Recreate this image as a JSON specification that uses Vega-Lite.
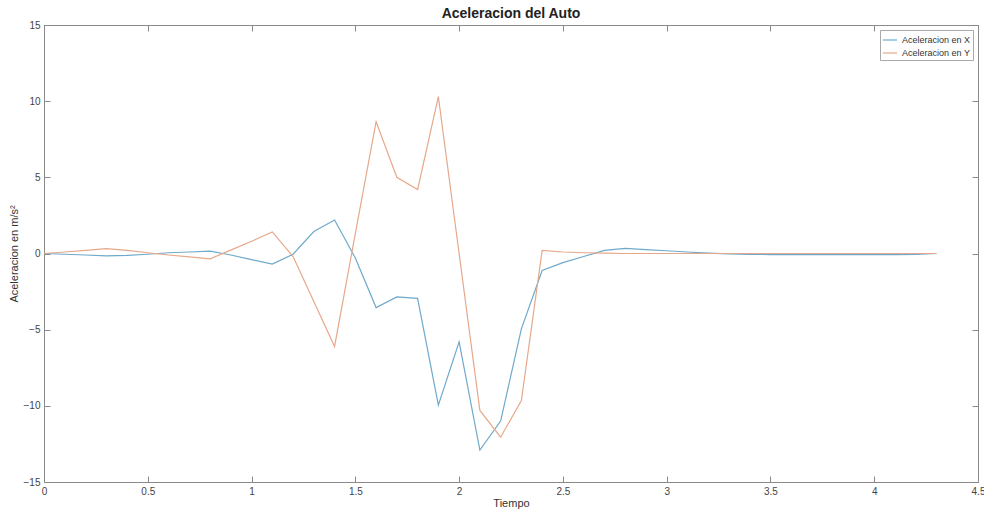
{
  "$schema": "https://vega.github.io/schema/vega-lite/v6.json",
  "width": 934,
  "height": 457,
  "autosize": {"type": "none"},
  "padding": {"left": 44, "top": 25, "right": 6, "bottom": 31},
  "background": "white",
  "config": {
    "view": {"stroke": "#8a8a8a", "strokeWidth": 1},
    "font": "Liberation Sans",
    "axis": {"labelFont": "Liberation Sans", "titleFont": "Liberation Sans"}
  },
  "title": {
    "text": "Aceleracion del Auto",
    "fontSize": 14,
    "fontWeight": "bold",
    "font": "Liberation Sans",
    "color": "#222222",
    "offset": -1
  },
  "data": {
    "values": [
      {"t": 0.0, "s": "Aceleracion en X", "a": 0.0},
      {"t": 0.1, "s": "Aceleracion en X", "a": -0.05},
      {"t": 0.2, "s": "Aceleracion en X", "a": -0.1},
      {"t": 0.3, "s": "Aceleracion en X", "a": -0.15},
      {"t": 0.4, "s": "Aceleracion en X", "a": -0.12},
      {"t": 0.5, "s": "Aceleracion en X", "a": -0.05},
      {"t": 0.6, "s": "Aceleracion en X", "a": 0.05},
      {"t": 0.7, "s": "Aceleracion en X", "a": 0.1},
      {"t": 0.8, "s": "Aceleracion en X", "a": 0.15},
      {"t": 0.9, "s": "Aceleracion en X", "a": -0.1},
      {"t": 1.0, "s": "Aceleracion en X", "a": -0.4},
      {"t": 1.1, "s": "Aceleracion en X", "a": -0.7},
      {"t": 1.2, "s": "Aceleracion en X", "a": -0.05},
      {"t": 1.3, "s": "Aceleracion en X", "a": 1.44},
      {"t": 1.4, "s": "Aceleracion en X", "a": 2.2},
      {"t": 1.5, "s": "Aceleracion en X", "a": -0.3},
      {"t": 1.6, "s": "Aceleracion en X", "a": -3.55},
      {"t": 1.7, "s": "Aceleracion en X", "a": -2.85},
      {"t": 1.8, "s": "Aceleracion en X", "a": -2.95},
      {"t": 1.9, "s": "Aceleracion en X", "a": -9.95},
      {"t": 2.0, "s": "Aceleracion en X", "a": -5.8},
      {"t": 2.1, "s": "Aceleracion en X", "a": -12.9},
      {"t": 2.2, "s": "Aceleracion en X", "a": -11.0},
      {"t": 2.3, "s": "Aceleracion en X", "a": -4.95},
      {"t": 2.4, "s": "Aceleracion en X", "a": -1.12},
      {"t": 2.5, "s": "Aceleracion en X", "a": -0.6},
      {"t": 2.6, "s": "Aceleracion en X", "a": -0.2},
      {"t": 2.7, "s": "Aceleracion en X", "a": 0.2},
      {"t": 2.8, "s": "Aceleracion en X", "a": 0.33},
      {"t": 2.9, "s": "Aceleracion en X", "a": 0.26},
      {"t": 3.0, "s": "Aceleracion en X", "a": 0.18},
      {"t": 3.1, "s": "Aceleracion en X", "a": 0.1},
      {"t": 3.2, "s": "Aceleracion en X", "a": 0.03},
      {"t": 3.3, "s": "Aceleracion en X", "a": -0.03},
      {"t": 3.4, "s": "Aceleracion en X", "a": -0.06},
      {"t": 3.5, "s": "Aceleracion en X", "a": -0.07},
      {"t": 3.6, "s": "Aceleracion en X", "a": -0.07},
      {"t": 3.7, "s": "Aceleracion en X", "a": -0.07},
      {"t": 3.8, "s": "Aceleracion en X", "a": -0.07},
      {"t": 3.9, "s": "Aceleracion en X", "a": -0.07},
      {"t": 4.0, "s": "Aceleracion en X", "a": -0.07},
      {"t": 4.1, "s": "Aceleracion en X", "a": -0.07},
      {"t": 4.2, "s": "Aceleracion en X", "a": -0.06},
      {"t": 4.3, "s": "Aceleracion en X", "a": 0.0},
      {"t": 0.0, "s": "Aceleracion en Y", "a": 0.0},
      {"t": 0.1, "s": "Aceleracion en Y", "a": 0.1},
      {"t": 0.2, "s": "Aceleracion en Y", "a": 0.2},
      {"t": 0.3, "s": "Aceleracion en Y", "a": 0.32},
      {"t": 0.4, "s": "Aceleracion en Y", "a": 0.2},
      {"t": 0.5, "s": "Aceleracion en Y", "a": 0.05},
      {"t": 0.6, "s": "Aceleracion en Y", "a": -0.1},
      {"t": 0.7, "s": "Aceleracion en Y", "a": -0.22},
      {"t": 0.8, "s": "Aceleracion en Y", "a": -0.35},
      {"t": 0.9, "s": "Aceleracion en Y", "a": 0.22},
      {"t": 1.0, "s": "Aceleracion en Y", "a": 0.8},
      {"t": 1.1, "s": "Aceleracion en Y", "a": 1.42},
      {"t": 1.2, "s": "Aceleracion en Y", "a": -0.2},
      {"t": 1.3, "s": "Aceleracion en Y", "a": -3.15},
      {"t": 1.4, "s": "Aceleracion en Y", "a": -6.1},
      {"t": 1.5, "s": "Aceleracion en Y", "a": 1.3},
      {"t": 1.6, "s": "Aceleracion en Y", "a": 8.65},
      {"t": 1.7, "s": "Aceleracion en Y", "a": 5.0},
      {"t": 1.8, "s": "Aceleracion en Y", "a": 4.2},
      {"t": 1.9, "s": "Aceleracion en Y", "a": 10.3},
      {"t": 2.0, "s": "Aceleracion en Y", "a": 0.0},
      {"t": 2.1, "s": "Aceleracion en Y", "a": -10.3},
      {"t": 2.2, "s": "Aceleracion en Y", "a": -12.06},
      {"t": 2.3, "s": "Aceleracion en Y", "a": -9.65},
      {"t": 2.4, "s": "Aceleracion en Y", "a": 0.2},
      {"t": 2.5, "s": "Aceleracion en Y", "a": 0.1},
      {"t": 2.6, "s": "Aceleracion en Y", "a": 0.05},
      {"t": 2.7, "s": "Aceleracion en Y", "a": 0.02},
      {"t": 2.8, "s": "Aceleracion en Y", "a": 0.0},
      {"t": 2.9, "s": "Aceleracion en Y", "a": 0.0},
      {"t": 3.0, "s": "Aceleracion en Y", "a": 0.0},
      {"t": 3.1, "s": "Aceleracion en Y", "a": 0.0},
      {"t": 3.2, "s": "Aceleracion en Y", "a": 0.0},
      {"t": 3.3, "s": "Aceleracion en Y", "a": 0.0},
      {"t": 3.4, "s": "Aceleracion en Y", "a": 0.0},
      {"t": 3.5, "s": "Aceleracion en Y", "a": 0.0},
      {"t": 3.6, "s": "Aceleracion en Y", "a": 0.0},
      {"t": 3.7, "s": "Aceleracion en Y", "a": 0.0},
      {"t": 3.8, "s": "Aceleracion en Y", "a": 0.0},
      {"t": 3.9, "s": "Aceleracion en Y", "a": 0.0},
      {"t": 4.0, "s": "Aceleracion en Y", "a": 0.0},
      {"t": 4.1, "s": "Aceleracion en Y", "a": 0.0},
      {"t": 4.2, "s": "Aceleracion en Y", "a": 0.0},
      {"t": 4.3, "s": "Aceleracion en Y", "a": 0.0}
    ]
  },
  "layer": [
    {
      "mark": {"type": "line", "strokeWidth": 1.2, "clip": true},
      "encoding": {
        "x": {
          "field": "t", "type": "quantitative",
          "scale": {"domain": [0, 4.5], "nice": false, "zero": false},
          "axis": {
            "orient": "bottom", "title": "Tiempo", "values": [0, 0.5, 1, 1.5, 2, 2.5, 3, 3.5, 4, 4.5],
            "format": "~g",
            "grid": false, "tickSize": -6, "tickColor": "#8a8a8a", "domainColor": "#8a8a8a",
            "labelColor": "#444444", "labelFontSize": 10, "labelPadding": 10,
            "titleColor": "#333333", "titleFontSize": 11, "titleFontWeight": "normal", "titlePadding": 1,
            "labelFlush": false
          }
        },
        "y": {
          "field": "a", "type": "quantitative",
          "scale": {"domain": [-15, 15], "nice": false, "zero": false},
          "axis": {
            "orient": "left", "title": "Aceleracion en m/s²", "values": [-15, -10, -5, 0, 5, 10, 15],
            "format": "~g",
            "grid": false, "tickSize": -6, "tickColor": "#8a8a8a", "domainColor": "#8a8a8a",
            "labelColor": "#444444", "labelFontSize": 10, "labelPadding": 10,
            "titleColor": "#333333", "titleFontSize": 11, "titleFontWeight": "normal", "titlePadding": 4,
            "labelFlush": false
          }
        },
        "color": {
          "field": "s", "type": "nominal",
          "scale": {"domain": ["Aceleracion en X", "Aceleracion en Y"], "range": ["#6fa9cb", "#e6a88b"]},
          "legend": {
            "orient": "top-right", "title": null, "offset": 5,
            "symbolType": "stroke", "symbolSize": 200, "symbolStrokeWidth": 1.2,
            "labelFontSize": 9, "labelColor": "#333333", "labelFont": "Liberation Sans",
            "strokeColor": "#aaaaaa", "fillColor": "white", "padding": 2, "rowPadding": 0,
            "labelOffset": 4
          }
        }
      }
    },
    {
      "mark": {"type": "line", "opacity": 0},
      "encoding": {
        "x": {
          "field": "t", "type": "quantitative",
          "scale": {"domain": [0, 4.5], "nice": false, "zero": false},
          "axis": {
            "orient": "top", "title": null, "labels": false, "values": [0, 0.5, 1, 1.5, 2, 2.5, 3, 3.5, 4, 4.5],
            "grid": false, "tickSize": -6, "tickColor": "#8a8a8a", "domainColor": "#8a8a8a"
          }
        },
        "y": {
          "field": "a", "type": "quantitative",
          "scale": {"domain": [-15, 15], "nice": false, "zero": false},
          "axis": {
            "orient": "right", "title": null, "labels": false, "values": [-15, -10, -5, 0, 5, 10, 15],
            "grid": false, "tickSize": -6, "tickColor": "#8a8a8a", "domainColor": "#8a8a8a"
          }
        },
        "detail": {"field": "s", "type": "nominal"}
      }
    }
  ],
  "resolve": {"axis": {"x": "independent", "y": "independent"}}
}
